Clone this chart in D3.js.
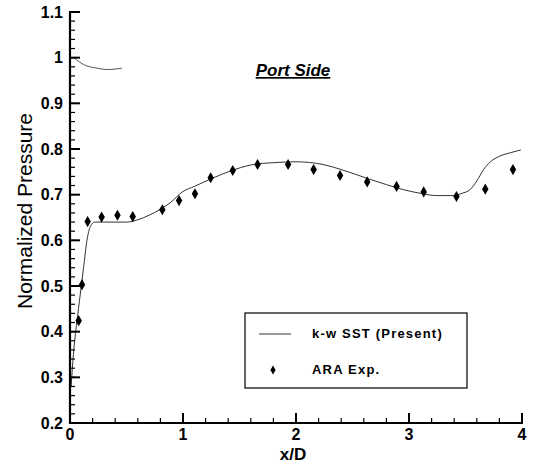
<!DOCTYPE html>
<html><head><meta charset="utf-8">
<script src="https://cdn.jsdelivr.net/npm/d3@7"></script>
<style>body{margin:0;background:#fff}svg{display:block}</style>
</head><body>
<script>
// ---- data ----
const simX = [0.01,0.03,0.06,0.09,0.12,0.15,0.18,0.22,0.3,0.5,0.6,0.7,0.8,0.885,1.0,1.1,1.27,1.4,1.62,1.8,2.0,2.24,2.4,2.65,2.8,2.95,3.1,3.24,3.39,3.47,3.54,3.6,3.66,3.72,3.8,3.9,3.99];
const simY = [0.28,0.35,0.42,0.48,0.54,0.60,0.63,0.64,0.64,0.64,0.645,0.655,0.668,0.682,0.707,0.718,0.737,0.75,0.766,0.770,0.772,0.766,0.755,0.734,0.722,0.711,0.703,0.698,0.698,0.703,0.711,0.73,0.755,0.772,0.784,0.792,0.798];
const sim2X = [0.035,0.12,0.24,0.32,0.40,0.46];
const sim2Y = [1.0,0.985,0.977,0.974,0.975,0.977];
const expX = [0.077,0.106,0.156,0.28,0.42,0.555,0.817,0.965,1.106,1.245,1.44,1.66,1.93,2.156,2.39,2.63,2.89,3.13,3.42,3.675,3.92];
const expY = [0.424,0.503,0.641,0.651,0.655,0.652,0.667,0.687,0.702,0.737,0.753,0.766,0.766,0.755,0.742,0.728,0.718,0.706,0.696,0.712,0.755];
const xTicks = [0,1,2,3,4];
const yTicks = [0.2,0.3,0.4,0.5,0.6,0.7,0.8,0.9,1,1.1];
const legendLabels = ["k-w SST (Present)","ARA Exp."];

const W=533,H=464;
const svg=d3.select("body").append("svg").attr("width",W).attr("height",H);
const x=d3.scaleLinear().domain([0,4]).range([70,522]);
const y=d3.scaleLinear().domain([0.2,1.1]).range([423,12]);
const font="'Liberation Sans', Arial, sans-serif";

// curves
const line=d3.line().x(d=>x(d[0])).y(d=>y(d[1])).curve(d3.curveMonotoneX);
svg.append("path").attr("d",line(simX.map((v,i)=>[v,simY[i]])))
  .attr("fill","none").attr("stroke","#333").attr("stroke-width",1);
svg.append("path").attr("d",line(sim2X.map((v,i)=>[v,sim2Y[i]])))
  .attr("fill","none").attr("stroke","#555").attr("stroke-width",1);

// markers
const diamond=d3.symbol().type(d3.symbolDiamond).size(36);
svg.append("g").selectAll("path").data(expX.map((v,i)=>[v,expY[i]])).join("path")
  .attr("d",diamond).attr("transform",d=>`translate(${x(d[0])},${y(d[1])})`).attr("fill","#000");

// axes
const minorX=d3.range(0,4.0001,0.2), minorY=d3.range(0.2,1.1001,0.02);
const ax=svg.append("g").attr("transform","translate(0,423)");
ax.selectAll("line.minor").data(minorX).join("line").attr("x1",d=>x(d)).attr("x2",d=>x(d)).attr("y1",0).attr("y2",-5).attr("stroke","#000").attr("stroke-width",1.2);
ax.selectAll("line.major").data(xTicks).join("line").attr("x1",d=>x(d)).attr("x2",d=>x(d)).attr("y1",0).attr("y2",-10).attr("stroke","#000").attr("stroke-width",2);
ax.append("line").attr("x1",x(0)-1).attr("x2",x(4)+1).attr("stroke","#000").attr("stroke-width",2.2);
ax.selectAll("text").data(xTicks).join("text").attr("x",d=>x(d)).attr("y",17).attr("text-anchor","middle")
  .attr("font-family",font).attr("font-size",16).attr("font-weight","bold").text(d=>d3.format("d")(d));

const ay=svg.append("g").attr("transform","translate(70,0)");
ay.selectAll("line.minor").data(minorY).join("line").attr("y1",d=>y(d)).attr("y2",d=>y(d)).attr("x1",0).attr("x2",5).attr("stroke","#000").attr("stroke-width",1.2);
ay.selectAll("line.major").data(yTicks).join("line").attr("y1",d=>y(d)).attr("y2",d=>y(d)).attr("x1",0).attr("x2",10).attr("stroke","#000").attr("stroke-width",2);
ay.append("line").attr("y1",y(1.1)-1).attr("y2",y(0.2)+1).attr("stroke","#000").attr("stroke-width",2.2);
ay.selectAll("text").data(yTicks).join("text").attr("x",-7).attr("y",d=>y(d)+5.5).attr("text-anchor","end")
  .attr("font-family",font).attr("font-size",16).attr("font-weight","bold").text(d=>d===1?"1":d3.format(".1f")(d));

// axis titles
svg.append("text").attr("x",293).attr("y",460).attr("text-anchor","middle").attr("font-family",font)
  .attr("font-size",17).attr("font-weight","bold").text("x/D");
svg.append("text").attr("transform","translate(32,211) rotate(-90)").attr("text-anchor","middle").attr("font-family",font)
  .attr("font-size",21).text("Normalized Pressure");

// title
svg.append("text").attr("x",293).attr("y",76).attr("text-anchor","middle").attr("font-family",font)
  .attr("font-size",17).attr("font-style","italic").attr("font-weight","bold").attr("text-decoration","underline").text("Port Side");

// legend
const lg=svg.append("g");
lg.append("rect").attr("x",245).attr("y",313).attr("width",222).attr("height",75).attr("fill","none").attr("stroke","#000").attr("stroke-width",1.2);
lg.append("line").attr("x1",259).attr("x2",291).attr("y1",334).attr("y2",334).attr("stroke","#333").attr("stroke-width",1);
lg.append("path").attr("d",d3.symbol().type(d3.symbolDiamond).size(24)).attr("transform","translate(273,370)");
lg.selectAll("text").data(legendLabels).join("text").attr("x",312).attr("y",(d,i)=>i===0?338:374)
  .attr("font-family",font).attr("font-size",13).attr("letter-spacing",1.2).attr("font-weight","bold").text(d=>d);
</script>
</body></html>
